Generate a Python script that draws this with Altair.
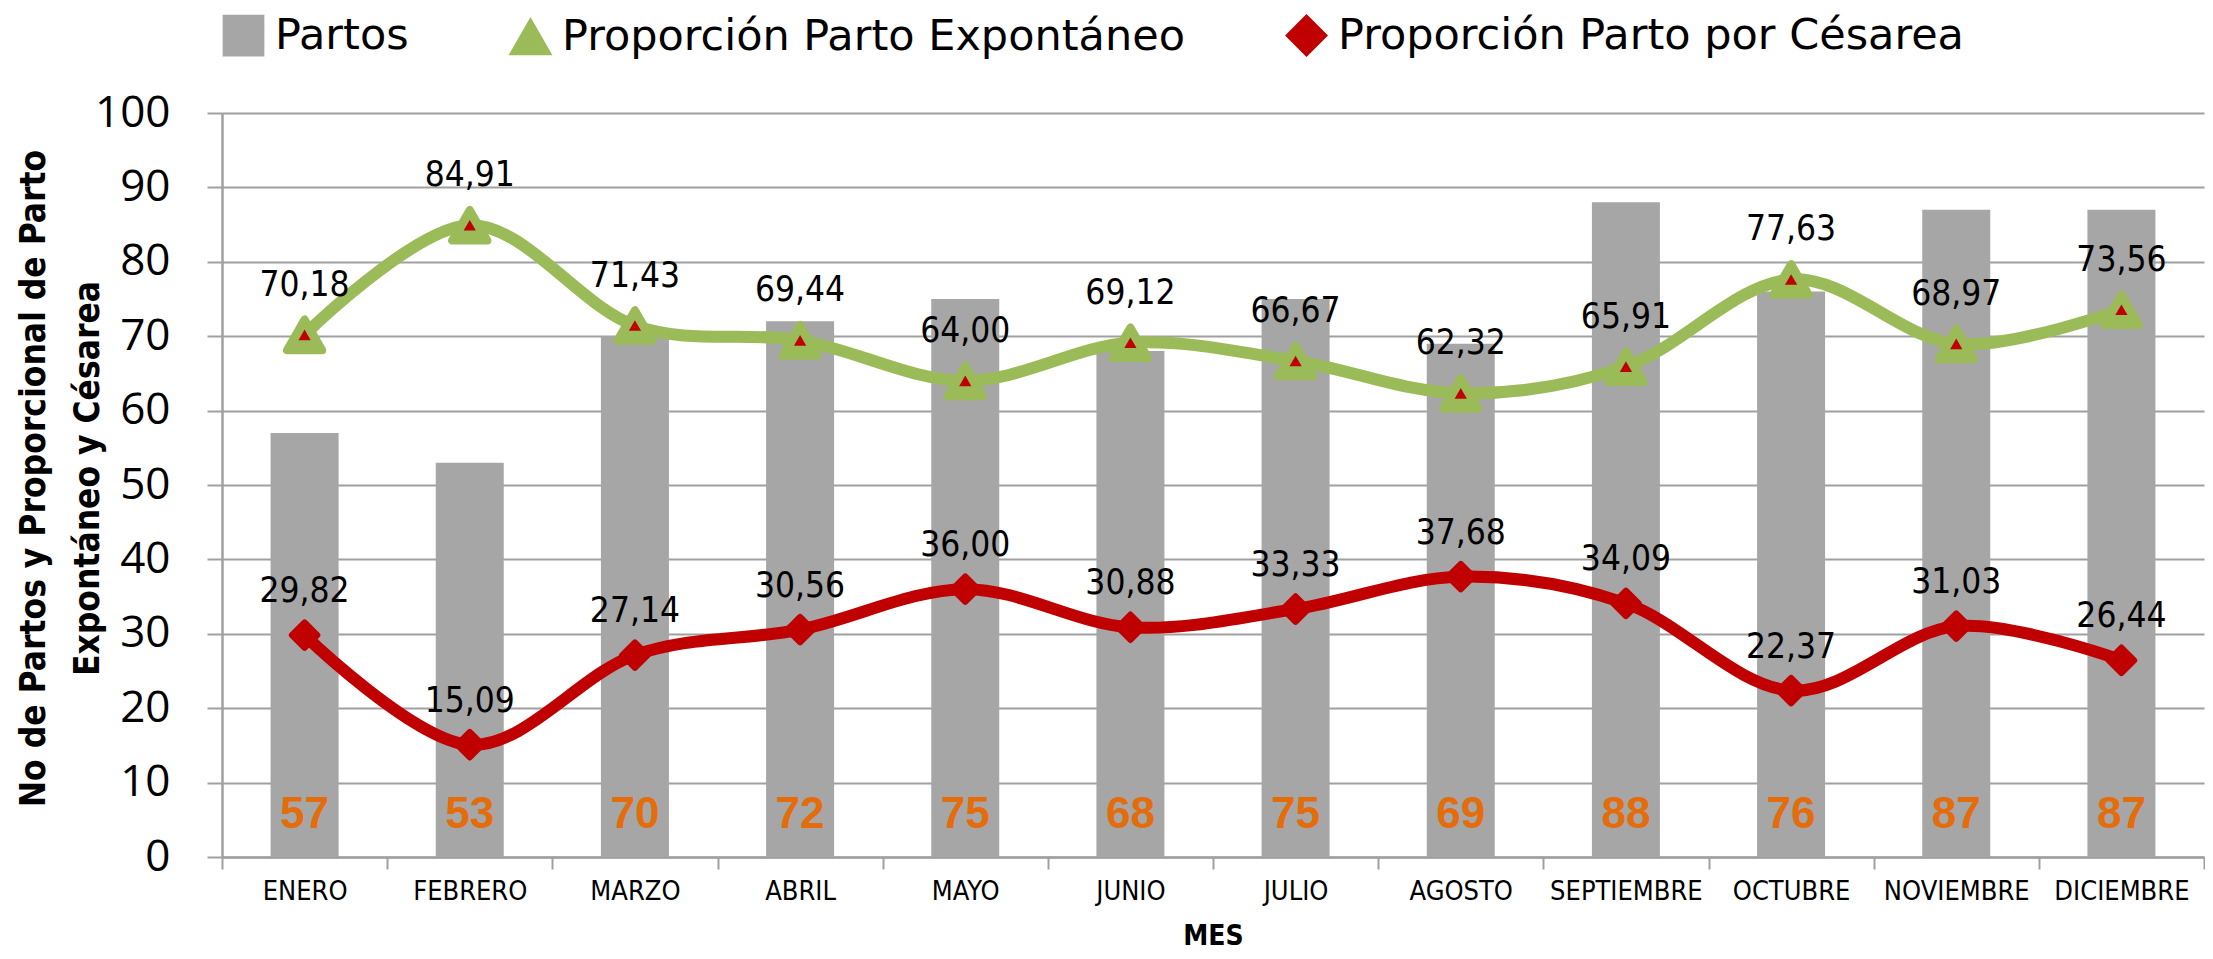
import altair as alt
import pandas as pd

MESES = ["ENERO", "FEBRERO", "MARZO", "ABRIL", "MAYO", "JUNIO", "JULIO",
         "AGOSTO", "SEPTIEMBRE", "OCTUBRE", "NOVIEMBRE", "DICIEMBRE"]
PARTOS = [57, 53, 70, 72, 75, 68, 75, 69, 88, 76, 87, 87]
ESPONTANEO = [70.18, 84.91, 71.43, 69.44, 64.00, 69.12, 66.67, 62.32, 65.91, 77.63, 68.97, 73.56]
CESAREA = [29.82, 15.09, 27.14, 30.56, 36.00, 30.88, 33.33, 37.68, 34.09, 22.37, 31.03, 26.44]

SERIES = ["Partos", "Proporción Parto Expontáneo", "Proporción Parto por Césarea"]
COLORES = ["#a6a6a6", "#9bbb59", "#c00000"]
FORMAS = ["square", "triangle-up", "diamond"]

rows = []
for m, p, e, c in zip(MESES, PARTOS, ESPONTANEO, CESAREA):
    rows.append({"mes": m, "serie": SERIES[0], "valor": p})
    rows.append({"mes": m, "serie": SERIES[1], "valor": e})
    rows.append({"mes": m, "serie": SERIES[2], "valor": c})
df = pd.DataFrame(rows)

NARROW = "DejaVu Sans Condensed, sans-serif"
GRID = "#a0a0a0"

x = alt.X(
    "mes:N", sort=MESES, title="MES",
    scale=alt.Scale(paddingInner=0, paddingOuter=0),
    axis=alt.Axis(
        labelAngle=0, labelFont=NARROW, labelFontSize=27, labelColor="black",
        tickBand="extent", tickSize=12, tickColor=GRID, tickWidth=2,
        domainColor=GRID, domainWidth=2.5, grid=False, labelPadding=9,
        titleFont=NARROW, titleFontWeight="bold", titleFontSize=28, titleColor="black",
        titleY=79, titleBaseline="middle",
    ),
)
y = alt.Y(
    "valor:Q",
    scale=alt.Scale(domain=[0, 100], nice=False),
    title=["No de Partos y Proporcional de Parto", "Expontáneo y Césarea"],
    axis=alt.Axis(
        values=list(range(0, 101, 10)), grid=True, gridColor=GRID, gridWidth=2,
        tickSize=15, tickColor=GRID, tickWidth=2, domainColor=GRID, domainWidth=2.5,
        labelFont="Open Sans", labelFontSize=44, labelColor="black", labelPadding=37,
        titleFont=NARROW, titleFontWeight="bold", titleFontSize=35, titleColor="black",
        titleLineHeight=54, titleX=-189, titleY=365, titleAngle=-90,
        titleAlign="center", titleBaseline="middle",
    ),
)

leg = alt.Legend(
    title=None, orient="none", legendX=0, legendY=-99, direction="horizontal",
    labelFont="DejaVu Sans", labelFontSize=43, labelColor="black",
    symbolSize=1500, symbolStrokeWidth=3, columnPadding=96, labelOffset=10,
    labelLimit=0, symbolOpacity=1,
)
fill_enc = alt.Fill("serie:N", scale=alt.Scale(domain=SERIES, range=COLORES), legend=leg)
stroke_enc = alt.Stroke("serie:N", scale=alt.Scale(domain=SERIES, range=COLORES), legend=leg)
shape_enc = alt.Shape("serie:N", scale=alt.Scale(domain=SERIES, range=FORMAS), legend=leg)

base = alt.Chart(df)

bars = base.transform_filter(alt.datum.serie == SERIES[0]).mark_bar(
    size=68, color=COLORES[0]
).encode(x=x, y=y)

bar_labels = base.transform_filter(alt.datum.serie == SERIES[0]).mark_text(
    font="Liberation Sans", fontWeight="bold", fontSize=44, color="#e46c0a",
    dy=-42, baseline="middle"
).encode(x=x, y=alt.Y(datum=0), text=alt.Text("valor:Q", format="d"))

lines = [
    base.transform_filter(alt.datum.serie == s).mark_line(
        interpolate="cardinal", strokeWidth=12, color=col, strokeCap="round"
    ).encode(x=x, y=y)
    for s, col in zip(SERIES[1:], COLORES[1:])
]

tri = base.transform_filter(alt.datum.serie == SERIES[1]).mark_point(
    filled=True, size=1250, strokeWidth=8, strokeJoin="round", opacity=1
).encode(x=x, y=y, fill=fill_enc, stroke=stroke_enc, shape=shape_enc)

dia = base.transform_filter(alt.datum.serie == SERIES[2]).mark_point(
    filled=True, size=650, strokeWidth=6, strokeJoin="round", opacity=1
).encode(x=x, y=y, fill=fill_enc, stroke=stroke_enc, shape=shape_enc)

inner = base.transform_filter(alt.datum.serie == SERIES[1]).mark_point(
    filled=True, shape="triangle-up", size=150, color="#c00000", opacity=1
).encode(x=x, y=y)

def pct_labels(serie, dy):
    return base.transform_filter(alt.datum.serie == serie).transform_calculate(
        lbl="replace(format(datum.valor, '.2f'), '.', ',')"
    ).mark_text(
        font=NARROW, fontSize=35, color="black", dy=dy, baseline="middle"
    ).encode(x=x, y=y, text="lbl:N")

chart = alt.layer(
    bars, bar_labels, *lines, tri, dia, inner,
    pct_labels(SERIES[1], -50), pct_labels(SERIES[2], -44),
).properties(
    width=1982, height=744,
    padding={"left": 214, "top": 105, "right": 1, "bottom": 94},
    autosize=alt.AutoSizeParams(type="none"),
    background="white",
).configure_view(stroke=None)

chart.save("out.html", embed_options={"renderer": "svg", "actions": False})
